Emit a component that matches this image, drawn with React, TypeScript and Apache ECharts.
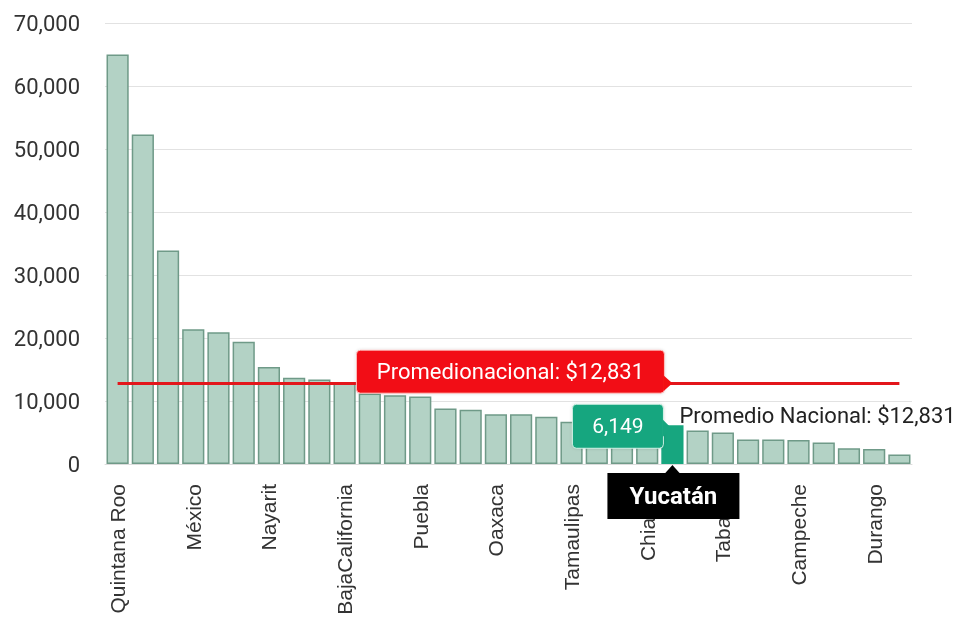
import React, { useEffect, useRef } from "react";
import * as echarts from "echarts";

const states = [
  "Quintana Roo", "Baja California Sur", "Ciudad de México", "México", "Jalisco",
  "Nuevo León", "Nayarit", "Guanajuato", "Sinaloa", "BajaCalifornia", "Veracruz",
  "Sonora", "Puebla", "Guerrero", "Chihuahua", "Oaxaca", "Coahuila", "Michoacán",
  "Tamaulipas", "Querétaro", "Morelos", "Chiapas", "Yucatán", "San Luis Potosí",
  "Tabasco", "Hidalgo", "Colima", "Campeche", "Aguascalientes", "Zacatecas",
  "Durango", "Tlaxcala",
];
const values = [
  65000, 52300, 33900, 21400, 20900, 19400, 15400, 13700, 13400, 13000, 11200,
  10900, 10700, 8800, 8600, 7900, 7900, 7500, 6700, 6500, 6400, 6300, 6149, 5300,
  5000, 3900, 3900, 3800, 3400, 2500, 2400, 1500,
];
const yTicks = [0, 10000, 20000, 30000, 40000, 50000, 60000, 70000];
const highlightState = "Yucatán";
const nationalAverage = 12831;

const fmt = (v: number) => v.toLocaleString("en-US");

export default function App() {
  const ref = useRef<HTMLDivElement>(null);
  useEffect(() => {
    document.body.style.margin = "0";
    const chart = echarts.init(ref.current!, null, { renderer: "svg" });
    const hiIdx = states.indexOf(highlightState);
    chart.setOption({
      animation: false,
      grid: { left: 105, right: 43, top: 23, bottom: 156 },
      xAxis: {
        type: "category",
        data: states,
        axisTick: { show: false },
        axisLine: { show: true, lineStyle: { color: "#dcdcdc", width: 1 } },
        axisLabel: {
          interval: 2,
          rotate: 90,
          margin: 20,
          fontSize: 21,
          fontFamily: "Liberation Sans",
          color: "#333",
        },
      },
      yAxis: {
        type: "value",
        min: yTicks[0],
        max: yTicks[yTicks.length - 1],
        interval: 10000,
        axisLabel: {
          formatter: (v: number) => fmt(v),
          fontSize: 22,
          fontFamily: "Roboto",
          color: "#333",
          margin: 25,
        },
        splitLine: { lineStyle: { color: "#e2e2e2", width: 1 } },
        axisLine: { show: false },
        axisTick: { show: false },
      },
      series: [
        {
          type: "bar",
          barCategoryGap: "12%",
          data: values.map((v, i) =>
            i === hiIdx
              ? { value: v, itemStyle: { color: "#17a67f", borderColor: "#17a67f" } }
              : v
          ),
          itemStyle: { color: "#b3d2c5", borderColor: "#6f9a88", borderWidth: 1.5 },
          markLine: {
            silent: true,
            symbol: "none",
            label: { show: false },
            lineStyle: { color: "#e3161b", width: 3, type: "solid" },
            data: [
              [
                { coord: [states[0], nationalAverage] },
                { coord: [states[states.length - 1], nationalAverage] },
              ],
            ],
          },
        },
      ],
    });

    const pBar = chart.convertToPixel({ xAxisIndex: 0, yAxisIndex: 0 }, [hiIdx, values[hiIdx]]) as number[];
    const pAvg = chart.convertToPixel({ xAxisIndex: 0, yAxisIndex: 0 }, [hiIdx, nationalAverage]) as number[];
    const pBase = chart.convertToPixel({ xAxisIndex: 0, yAxisIndex: 0 }, [hiIdx, 0]) as number[];

    const font = "Roboto";
    const rW = 308, rH = 43;
    const rRight = pAvg[0] - 8;
    const rTop = pAvg[1] - 33;
    const gW = 91, gH = 44;
    const gRight = pBar[0] - 9;
    const gTop = pBar[1] - 21;
    const bW = 132, bH = 46;
    const bLeft = pBase[0] - 65;
    const bTop = pBase[1] + 9;

    const txt = (text: string, x: number, y: number, size: number, fill: string, weight = "normal", align = "center") => ({
      type: "text",
      z: 110,
      style: {
        text, x, y, fill,
        fontSize: size, fontFamily: font, fontWeight: weight,
        align, verticalAlign: "middle", textAlign: align, textVerticalAlign: "middle",
      },
    });

    chart.setOption({
      graphic: [
        {
          type: "rect", z: 100,
          shape: { x: rRight - rW, y: rTop, width: rW, height: rH, r: 4 },
          style: { fill: "#f20f12", stroke: "rgba(255,200,200,0.9)", lineWidth: 1, shadowBlur: 3, shadowColor: "rgba(0,0,0,0.15)" },
        },
        {
          type: "polygon", z: 101,
          shape: { points: [[rRight - 1, pAvg[1] - 8], [pAvg[0], pAvg[1]], [rRight - 1, pAvg[1] + 8]] },
          style: { fill: "#f20f12" },
        },
        txt("Promedionacional: $" + fmt(nationalAverage), rRight - rW / 2, rTop + rH / 2, 22, "#ffffff"),
        {
          type: "rect", z: 100,
          shape: { x: gRight - gW, y: gTop, width: gW, height: gH, r: 4 },
          style: { fill: "#17a67f", stroke: "rgba(220,245,235,0.9)", lineWidth: 1, shadowBlur: 3, shadowColor: "rgba(0,0,0,0.15)" },
        },
        {
          type: "polygon", z: 101,
          shape: { points: [[gRight - 1, pBar[1] - 6], [pBar[0] - 1, pBar[1] + 3], [gRight - 1, pBar[1] + 12]] },
          style: { fill: "#17a67f" },
        },
        txt(fmt(values[hiIdx]), gRight - gW / 2, gTop + gH / 2, 21, "#ffffff"),
        txt("Promedio Nacional: $" + fmt(nationalAverage), pBar[0] + 7, pBar[1] - 10, 22, "#222222", "normal", "left"),
        {
          type: "rect", z: 100,
          shape: { x: bLeft, y: bTop, width: bW, height: bH },
          style: { fill: "#000000" },
        },
        {
          type: "polygon", z: 101,
          shape: { points: [[pBase[0] - 8, bTop + 1], [pBase[0], pBase[1] + 1], [pBase[0] + 8, bTop + 1]] },
          style: { fill: "#000000" },
        },
        txt(highlightState, bLeft + bW / 2, bTop + bH / 2, 24, "#ffffff", "bold"),
      ],
    });

    return () => chart.dispose();
  }, []);
  return <div ref={ref} style={{ position: "fixed", left: 0, top: 0, width: 955, height: 620 }} />;
}
